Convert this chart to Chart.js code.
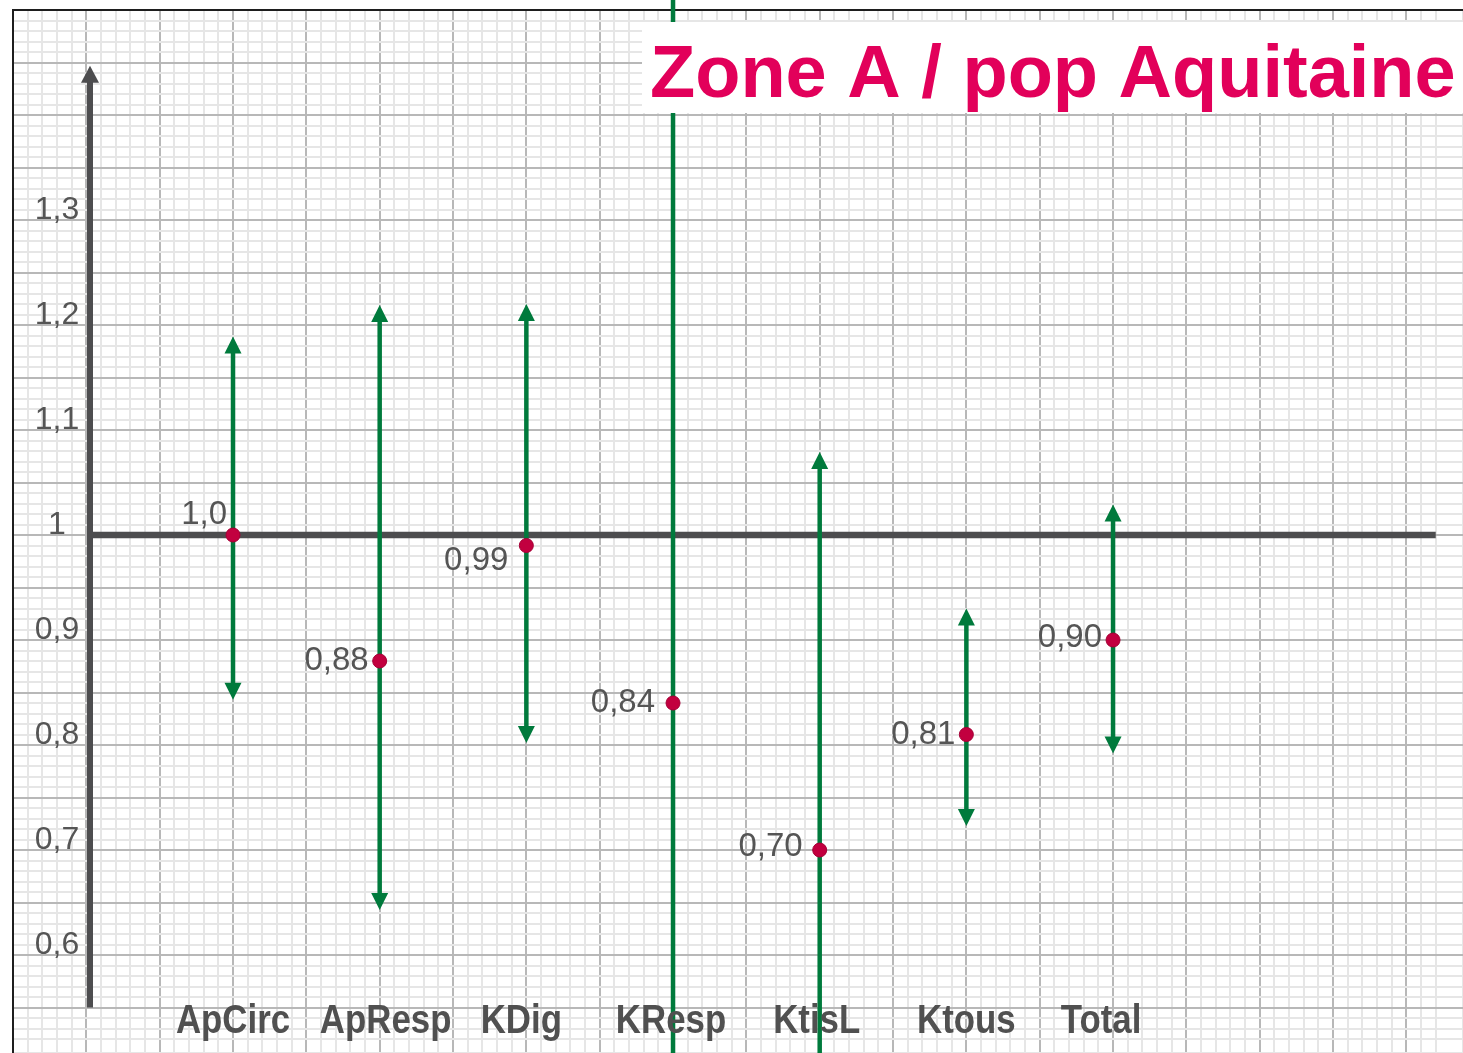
<!doctype html>
<html lang="fr">
<head>
<meta charset="UTF-8"/>
<title>Zone A / pop Aquitaine</title>
<script src="https://cdn.jsdelivr.net/npm/chart.js@4/dist/chart.umd.min.js"></script>
<style>
    html, body { margin: 0; padding: 0; background: #fff; }
    #wrap { width: 1463px; height: 1053px; position: relative; }
</style>
</head>
<body>
<div id="wrap"><canvas id="ciChart"></canvas></div>
<script>
    // Values
    const categories = ['ApCirc', 'ApResp', 'KDig', 'KResp', 'KtisL', 'Ktous', 'Total'];
    const estimates = [1.00, 0.88, 0.99, 0.84, 0.70, 0.81, 0.90];
    const pointLabels = ['1,0', '0,88', '0,99', '0,84', '0,70', '0,81', '0,90'];
    // interval bounds (KResp and KtisL run out of the frame)
    const lowerBounds = [0.843, 0.643, 0.802, 0.30, 0.40, 0.723, 0.792];
    const upperBounds = [1.189, 1.219, 1.220, 1.80, 1.079, 0.930, 1.029];
    const yTickValues = [0.6, 0.7, 0.8, 0.9, 1.0, 1.1, 1.2, 1.3];
    const yTickLabels = ['0,6', '0,7', '0,8', '0,9', '1', '1,1', '1,2', '1,3'];
    const chartTitle = 'Zone A / pop Aquitaine';

    const GREEN = '#007a3c';
    const DARK = '#4d4d4f';
    const TEXT = '#555555';

    function isMajor(v, step) {
        const r = v / step;
        return Math.abs(r - Math.round(r)) < 1e-6;
    }

    function arrowHead(ctx, x, y, dir, w, h) {
        // dir = -1 points up, 1 points down
        ctx.beginPath();
        ctx.moveTo(x, y);
        ctx.lineTo(x - w / 2, y - dir * h);
        ctx.lineTo(x + w / 2, y - dir * h);
        ctx.closePath();
        ctx.fill();
    }

    const paperPlugin = {
        id: 'paper',
        beforeDatasetsDraw(chart) {
            const {ctx, scales: {x, y}} = chart;
            ctx.save();

            // vertical axis with arrow
            const ax = x.getPixelForValue(-0.975);
            const axTop = y.getPixelForValue(1.447);
            const axBottom = y.getPixelForValue(0.55);
            ctx.strokeStyle = DARK;
            ctx.fillStyle = DARK;
            ctx.lineWidth = 6;
            ctx.beginPath();
            ctx.moveTo(ax, axBottom);
            ctx.lineTo(ax, axTop + 14);
            ctx.stroke();
            arrowHead(ctx, ax, axTop, -1, 18, 17);

            // reference line at 1
            const y1 = y.getPixelForValue(1);
            ctx.lineWidth = 6.5;
            ctx.beginPath();
            ctx.moveTo(ax, y1);
            ctx.lineTo(x.getPixelForValue(8.2), y1);
            ctx.stroke();

            // confidence intervals
            ctx.strokeStyle = GREEN;
            ctx.fillStyle = GREEN;
            ctx.lineWidth = 4.5;
            categories.forEach((c, i) => {
                const px = x.getPixelForValue(i);
                const top = y.getPixelForValue(upperBounds[i]);
                const bot = y.getPixelForValue(lowerBounds[i]);
                ctx.beginPath();
                ctx.moveTo(px, bot - 12);
                ctx.lineTo(px, top + 12);
                ctx.stroke();
                arrowHead(ctx, px, top, -1, 17, 17);
                arrowHead(ctx, px, bot, 1, 17, 17);
            });
            ctx.restore();
        },
        afterDatasetsDraw(chart, args, opts) {
            const {ctx, scales: {x, y}} = chart;
            ctx.save();
            ctx.fillStyle = TEXT;

            // y tick labels
            ctx.font = '32px "Liberation Sans", Arial, sans-serif';
            ctx.textAlign = 'center';
            ctx.textBaseline = 'alphabetic';
            yTickValues.forEach((v, i) => {
                ctx.fillText(yTickLabels[i], x.getPixelForValue(-1.2), y.getPixelForValue(v) - 1);
            });

            // value labels next to the points
            ctx.font = '33px "Liberation Sans", Arial, sans-serif';
            ctx.textAlign = 'right';
            ctx.textBaseline = 'middle';
            estimates.forEach((v, i) => {
                const [dx, dy] = opts.labelShift[i];
                ctx.fillText(pointLabels[i], x.getPixelForValue(i) + dx, y.getPixelForValue(v) + dy);
            });

            // category labels, narrow bold
            ctx.fillStyle = '#505050';
            ctx.font = 'bold 41px "Liberation Sans", Arial, sans-serif';
            ctx.textAlign = 'center';
            ctx.textBaseline = 'alphabetic';
            categories.forEach((c, i) => {
                ctx.save();
                ctx.translate(x.getPixelForValue(i) + opts.nameNudge[i], 1033);
                ctx.scale(0.85, 1);
                ctx.fillText(c, 0, 0);
                ctx.restore();
            });

            // title box
            ctx.fillStyle = '#ffffff';
            ctx.fillRect(642, 22, chart.width - 642, 91);
            ctx.fillStyle = '#e2005a';
            ctx.font = 'bold 74px "Liberation Sans", Arial, sans-serif';
            ctx.textAlign = 'left';
            ctx.fillText(chartTitle, 650, 97);
            ctx.restore();
        }
    };

    const paperGrid = (step, major) => ({
        drawTicks: false,
        lineWidth: 2,
        color: (c) => isMajor(c.tick.value, major) ? '#b8b8b8' : '#e6e6e6'
    });

    new Chart(document.getElementById('ciChart'), {
        type: 'scatter',
        data: {
            datasets: [{
                data: estimates.map((v, i) => ({x: i, y: v})),
                pointRadius: 7,
                pointHoverRadius: 7,
                backgroundColor: '#c2003f',
                borderColor: '#a50036',
                borderWidth: 1
            }]
        },
        plugins: [paperPlugin],
        options: {
            responsive: true,
            maintainAspectRatio: false,
            animation: false,
            layout: {autoPadding: false, padding: {top: 10, left: 13, right: 0, bottom: 0}},
            plugins: {
                legend: {display: false},
                tooltip: {enabled: false},
                paper: {
                    labelShift: [[-6, -20], [-11, 0], [-18, 15], [-18, 0], [-17, -3], [-11, 0], [-11, -2]],
                    nameNudge: [0, 6, -5, -2, -3, 0, -12]
                }
            },
            scales: {
                x: {
                    type: 'linear',
                    position: 'top',
                    min: -1.5,
                    max: 8.386,
                    ticks: {display: false, stepSize: 0.1, autoSkip: false},
                    grid: paperGrid(0.1, 0.5),
                    border: {display: true, color: '#1e1e1e', width: 2}
                },
                y: {
                    type: 'linear',
                    position: 'left',
                    min: 0.5067,
                    max: 1.5,
                    ticks: {display: false, stepSize: 0.01, autoSkip: false},
                    grid: paperGrid(0.01, 0.05),
                    border: {display: true, color: '#1e1e1e', width: 2}
                }
            }
        }
    });
</script>
</body>
</html>
